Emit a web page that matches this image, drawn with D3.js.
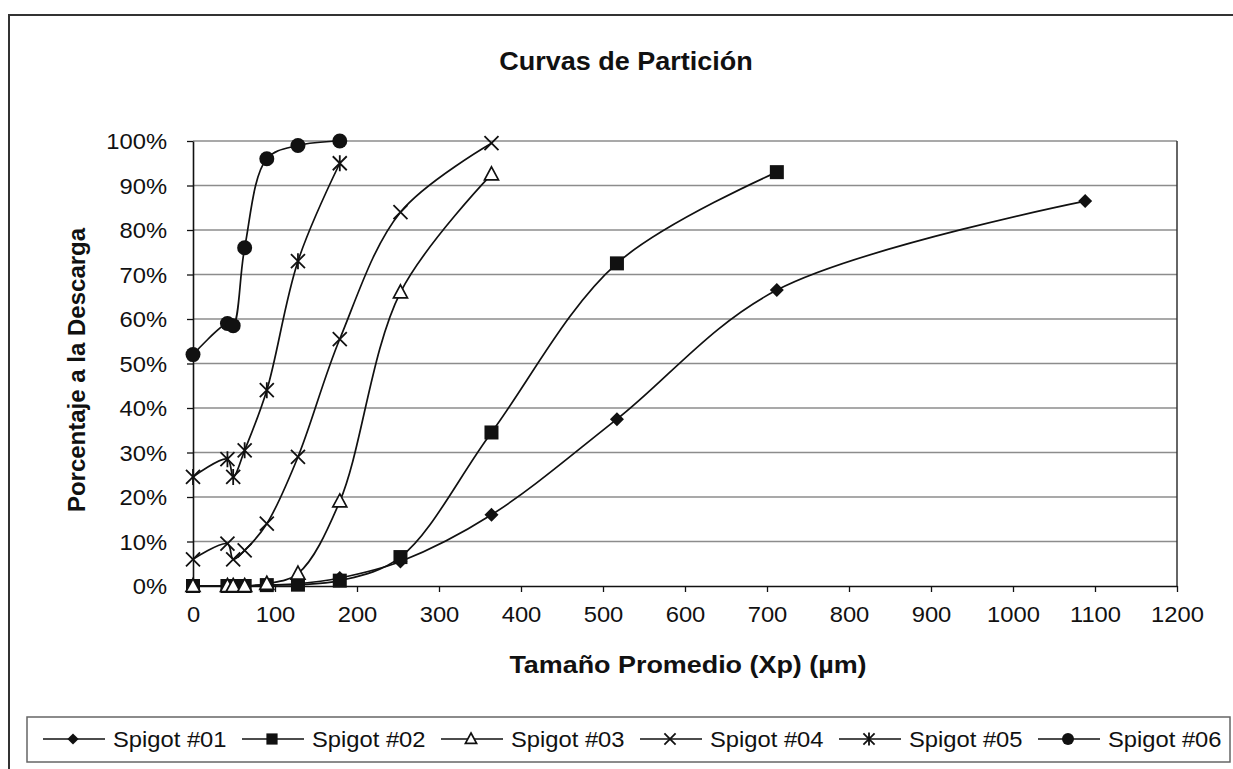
<!DOCTYPE html>
<html>
<head>
<meta charset="utf-8">
<script src="https://cdn.jsdelivr.net/npm/d3@7"></script>
<style>
  body { margin: 0; background: #fff; }
  text { font-family: "Liberation Sans", Arial, sans-serif; fill: #111; }
</style>
</head>
<body>
<svg id="chart" width="1233" height="769"></svg>
<script>
// Average particle size of each size fraction (µm)
const sizes = [0, 42, 49, 63, 90, 128, 179, 253, 364, 517, 712, 1088];

// Partition to the discharge (%), one array per spigot, in order of size
const spigot01 = [0, 0, 0, 0, 0.2, 0.5, 1.8, 5.5, 16, 37.5, 66.5, 86.5];
const spigot02 = [0, 0, 0, 0, 0.2, 0.3, 1.2, 6.5, 34.5, 72.5, 93];
const spigot03 = [0, 0, 0, 0, 0.5, 2.8, 19, 66, 92.5];
const spigot04 = [6, 9.5, 6, 8, 14, 29, 55.5, 84, 99.5];
const spigot05 = [24.5, 28.5, 24.5, 30.5, 44, 73, 95];
const spigot06 = [52, 59, 58.5, 76, 96, 99, 100];

const seriesNames = ["Spigot #01", "Spigot #02", "Spigot #03", "Spigot #04", "Spigot #05", "Spigot #06"];
const markerKinds = ["diamond", "square", "triangle", "cross", "star", "circle"];

const xTicks = [0, 100, 200, 300, 400, 500, 600, 700, 800, 900, 1000, 1100, 1200];
const yTicks = [0, 10, 20, 30, 40, 50, 60, 70, 80, 90, 100];

const title = "Curvas de Partición";
const xTitle = "Tamaño Promedio (Xp) (µm)";
const yTitle = "Porcentaje a la Descarga";

const seriesValues = [spigot01, spigot02, spigot03, spigot04, spigot05, spigot06];
const series = seriesNames.map((name, i) => ({
  name,
  kind: markerKinds[i],
  points: seriesValues[i].map((v, j) => ({ x: sizes[j], y: v }))
}));

const svg = d3.select("#chart");
const SX = 1.08; // horizontal text stretch

const plot = { left: 193, right: 1177, top: 141, bottom: 586 };
const x = d3.scaleLinear().domain([0, 1200]).range([plot.left, plot.right]);
const y = d3.scaleLinear().domain([0, 100]).range([plot.bottom, plot.top]);

// outer chart frame (top and left edges)
svg.append("path")
  .attr("d", "M9,769 L9,15 L1233,15")
  .attr("fill", "none").attr("stroke", "#333").attr("stroke-width", 2);

// title
svg.append("text")
  .attr("transform", `translate(626,70) scale(${SX},1)`)
  .attr("text-anchor", "middle")
  .attr("font-size", 25).attr("font-weight", "bold")
  .text(title);

// horizontal gridlines
svg.append("g").selectAll("line")
  .data(yTicks.filter(d => d > 0))
  .join("line")
  .attr("x1", plot.left).attr("x2", plot.right)
  .attr("y1", d => y(d)).attr("y2", d => y(d))
  .attr("stroke", "#8c8c8c").attr("stroke-width", 1.3);

// plot border on the right
svg.append("line")
  .attr("x1", plot.right).attr("x2", plot.right)
  .attr("y1", plot.top).attr("y2", plot.bottom)
  .attr("stroke", "#333").attr("stroke-width", 1.5);

// axes
const yAxis = svg.append("g")
  .attr("transform", `translate(${plot.left},0)`)
  .call(d3.axisLeft(y).tickValues(yTicks).tickSize(6).tickSizeOuter(0).tickFormat(d => d + "%"));
const xAxis = svg.append("g")
  .attr("transform", `translate(0,${plot.bottom})`)
  .call(d3.axisBottom(x).tickValues(xTicks).tickSize(6).tickSizeOuter(0).tickFormat(d3.format("d")));

[xAxis, yAxis].forEach(g => {
  g.select(".domain").attr("stroke", "#111").attr("stroke-width", 1.6);
  g.selectAll(".tick line").attr("stroke", "#111").attr("stroke-width", 1.3);
  g.selectAll(".tick text")
    .attr("font-family", "\"Liberation Sans\", Arial, sans-serif")
    .attr("font-size", 22).attr("fill", "#111");
});
yAxis.selectAll(".tick text")
  .attr("x", null).attr("dy", "0.36em")
  .attr("transform", `translate(-26,0) scale(${SX},1)`);
xAxis.selectAll(".tick text")
  .attr("y", null).attr("dy", null)
  .attr("transform", `translate(0,36) scale(${SX},1)`);

// axis titles
svg.append("text")
  .attr("transform", `translate(688,673) scale(1.17,1)`)
  .attr("text-anchor", "middle")
  .attr("font-size", 23).attr("font-weight", "bold")
  .text(xTitle);
svg.append("text")
  .attr("transform", "translate(85,370) rotate(-90)")
  .attr("text-anchor", "middle")
  .attr("font-size", 24).attr("font-weight", "bold")
  .text(yTitle);

// marker shapes
function drawMarker(g, kind, s) {
  const k = s || 1;
  switch (kind) {
    case "diamond":
      g.append("path").attr("d", `M0,${-7*k} L${7*k},0 L0,${7*k} L${-7*k},0Z`).attr("fill", "#111");
      break;
    case "square":
      g.append("rect").attr("x", -7*k).attr("y", -7*k).attr("width", 14*k).attr("height", 14*k).attr("fill", "#111");
      break;
    case "triangle":
      g.append("path").attr("d", `M0,${-7.5*k} L${7*k},${5.5*k} L${-7*k},${5.5*k}Z`)
        .attr("fill", "#fff").attr("stroke", "#111").attr("stroke-width", 1.7);
      break;
    case "cross":
      g.append("path").attr("d", `M${-7*k},${-7*k} L${7*k},${7*k} M${-7*k},${7*k} L${7*k},${-7*k}`)
        .attr("stroke", "#111").attr("stroke-width", 1.8);
      break;
    case "star":
      g.append("path").attr("d", `M${-7*k},${-7*k} L${7*k},${7*k} M${-7*k},${7*k} L${7*k},${-7*k} M0,${-8*k} L0,${8*k}`)
        .attr("stroke", "#111").attr("stroke-width", 1.8);
      break;
    case "circle":
      g.append("circle").attr("r", 7.5*k).attr("fill", "#111");
      break;
  }
}

// smoothed series lines
const line = d3.line().x(d => x(d.x)).y(d => y(d.y)).curve(d3.curveCatmullRom.alpha(0.5));
const sg = svg.append("g");
series.forEach(s => {
  sg.append("path")
    .attr("d", line(s.points))
    .attr("fill", "none").attr("stroke", "#111").attr("stroke-width", 1.7);
});
// markers on top
series.forEach(s => {
  s.points.forEach(p => {
    const m = sg.append("g").attr("transform", `translate(${x(p.x)},${y(p.y)})`);
    drawMarker(m, s.kind, 1);
  });
});

// legend
const legend = svg.append("g");
legend.append("rect")
  .attr("x", 27).attr("y", 717).attr("width", 1203).attr("height", 45)
  .attr("fill", "#fff").attr("stroke", "#666").attr("stroke-width", 1.5);
series.forEach((s, i) => {
  const tx = 113 + 199 * i;
  const ly = 739;
  legend.append("line")
    .attr("x1", tx - 70).attr("x2", tx - 8).attr("y1", ly).attr("y2", ly)
    .attr("stroke", "#111").attr("stroke-width", 1.7);
  const m = legend.append("g").attr("transform", `translate(${tx - 40},${ly})`);
  drawMarker(m, s.kind, 0.8);
  legend.append("text")
    .attr("transform", `translate(${tx},747) scale(${SX},1)`)
    .attr("font-size", 22)
    .text(s.name);
});
</script>
</body>
</html>
